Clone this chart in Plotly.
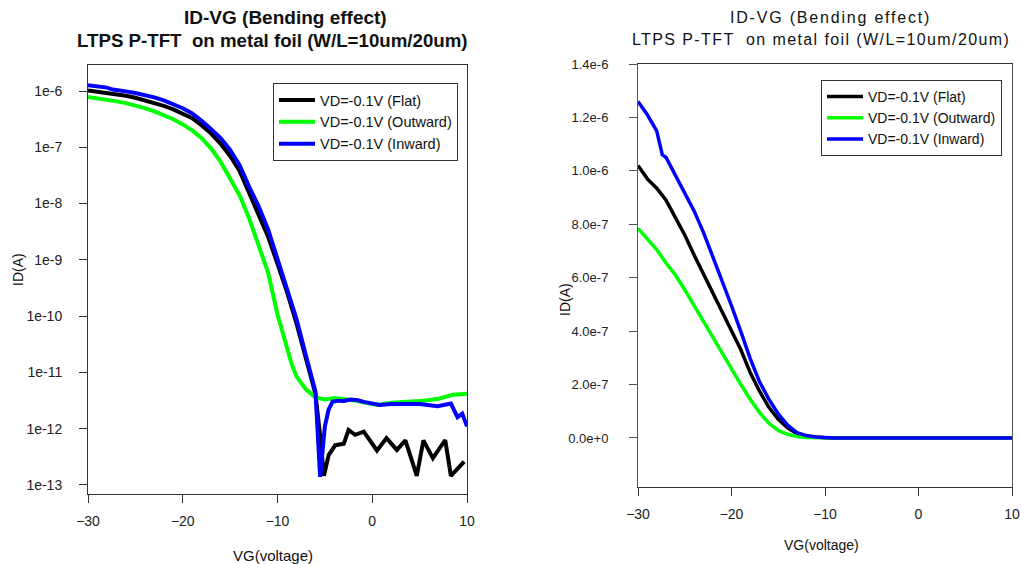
import plotly.graph_objects as go

# ---------------- data ----------------
vg_flat = [-30, -29, -28, -27, -26, -25, -24, -23, -22, -21, -20, -19, -18, -17, -16, -15, -14, -13,
           -12, -11, -10, -9, -8, -7, -6, -5.5, -5.1, -4.6, -3.9, -3.0, -2.5, -1.8, -0.9, 0.5, 1.5,
           2.6, 3.5, 4.7, 5.4, 6.4, 7.7, 8.3, 9.0, 9.7]
id_flat = [1.02e-6, 9.7e-7, 9.35e-7, 8.9e-7, 8.25e-7, 7.6e-7, 6.85e-7, 6.15e-7, 5.45e-7, 4.7e-7,
           4.0e-7, 3.3e-7, 2.45e-7, 1.75e-7, 1.15e-7, 7.0e-8, 3.8e-8, 1.6e-8, 6.5e-9, 2.6e-9,
           8.5e-10, 2.7e-10, 7.5e-11, 1.8e-11, 4.2e-12, 7.5e-13, 1.45e-13, 3.4e-13, 5.1e-13,
           5.4e-13, 9.5e-13, 7.8e-13, 8.9e-13, 4.1e-13, 6.8e-13, 4.2e-13, 6.2e-13, 1.45e-13,
           6.2e-13, 3.0e-13, 6.3e-13, 1.45e-13, 2.0e-13, 2.6e-13]

vg_out = [-30, -29, -28, -27, -26, -25, -24, -23, -22, -21, -20, -19, -18, -17, -16, -15, -14, -13,
          -12, -11, -10, -9, -8.5, -8, -7.5, -7, -6, -5, -4, -2, 0.5, 2, 5.4, 7, 8.5, 10]
id_out = [7.85e-7, 7.45e-7, 7.05e-7, 6.55e-7, 6.1e-7, 5.55e-7, 4.95e-7, 4.35e-7, 3.75e-7, 3.15e-7,
          2.55e-7, 2.0e-7, 1.45e-7, 9.5e-8, 5.5e-8, 2.8e-8, 1.4e-8, 5.5e-9, 1.8e-9, 6.0e-10,
          1.07e-10, 2.6e-11, 1.4e-11, 8.5e-12, 6.3e-12, 5.0e-12, 3.6e-12, 3.3e-12, 3.5e-12,
          3.2e-12, 2.65e-12, 2.9e-12, 3.15e-12, 3.4e-12, 4.0e-12, 4.2e-12]

vg_in = [-30, -29, -28, -27.4, -27, -26, -25, -24, -23, -22, -21, -20, -19, -18, -17, -16, -15, -14,
         -13, -12, -11, -10, -9, -8, -7, -6, -5.5, -5, -4.6, -4.2, -3.6, -3, -2.3, -1.5, -0.9, 0,
         0.8, 2, 3.6, 5, 6.9, 8.3, 9.0, 9.5, 10]
id_in = [1.26e-6, 1.21e-6, 1.15e-6, 1.06e-6, 1.05e-6, 9.85e-7, 9.2e-7, 8.5e-7, 7.7e-7, 6.8e-7,
         5.9e-7, 4.95e-7, 3.98e-7, 2.97e-7, 2.1e-7, 1.45e-7, 9.0e-8, 4.8e-8, 2.0e-8, 9.0e-9,
         3.5e-9, 1.0e-9, 3.2e-10, 9.0e-11, 2.0e-11, 4.6e-12, 1.4e-13, 1.1e-12, 2.2e-12, 3.0e-12,
         3.15e-12, 3.1e-12, 3.3e-12, 3.2e-12, 3.0e-12, 2.8e-12, 2.65e-12, 2.75e-12, 2.75e-12,
         2.75e-12, 2.5e-12, 2.8e-12, 1.6e-12, 1.85e-12, 1.1e-12]

series_names = ["VD=-0.1V (Flat)", "VD=-0.1V (Outward)", "VD=-0.1V (Inward)"]
series_colors = ["#000000", "#00FF00", "#0000FF"]

x_ticks = [-30, -20, -10, 0, 10]
log_tickvals = [1e-6, 1e-7, 1e-8, 1e-9, 1e-10, 1e-11, 1e-12, 1e-13]
log_ticktext = ["1e-6", "1e-7", "1e-8", "1e-9", "1e-10", "1e-11", "1e-12", "1e-13"]
lin_tickvals = [1.4e-6, 1.2e-6, 1.0e-6, 8.0e-7, 6.0e-7, 4.0e-7, 2.0e-7, 0.0]
lin_ticktext = ["1.4e-6", "1.2e-6", "1.0e-6", "8.0e-7", "6.0e-7", "4.0e-7", "2.0e-7", "0.0e+0"]

title_l1 = "ID-VG (Bending effect)"
title_l2 = "LTPS P-TFT  on metal foil (W/L=10um/20um)"

# ---------------- figure ----------------
W, H = 1021, 564
FONT = "Liberation Sans, Arial, sans-serif"

def px(x):
    return x / W

def py(y):
    return 1 - y / H

fig = go.Figure()
data = [(vg_flat, id_flat), (vg_out, id_out), (vg_in, id_in)]
for (vx, vy), name, col in zip(data, series_names, series_colors):
    fig.add_trace(go.Scatter(x=vx, y=vy, mode="lines", name=name,
                             line=dict(color=col, width=4),
                             xaxis="x", yaxis="y", legend="legend"))
for (vx, vy), name, col in zip(data, series_names, series_colors):
    fig.add_trace(go.Scatter(x=vx, y=vy, mode="lines", name=name,
                             line=dict(color=col, width=3.5),
                             xaxis="x2", yaxis="y2", legend="legend2"))

def axis_common(size, color="#333333"):
    return dict(showline=True, mirror=True, linecolor=color, linewidth=1,
                ticks="outside", ticklen=8, tickcolor=color, showgrid=False,
                zeroline=False, automargin=False,
                tickfont=dict(family=FONT, size=size, color="#222222"))

fig.update_layout(
    template="none",
    width=W, height=H, margin=dict(l=0, r=0, t=0, b=0, pad=0, autoexpand=False),
    paper_bgcolor="white", plot_bgcolor="white",
    font=dict(family=FONT, color="#111111"),
    xaxis=dict(domain=[px(88), px(467)], range=[-30, 10], tickvals=x_ticks,
               anchor="y", ticklabelstandoff=6, **axis_common(14)),
    yaxis=dict(domain=[py(494), py(65)], type="log", range=[-13.16, -5.538],
               tickvals=log_tickvals, ticktext=log_ticktext, anchor="x",
               ticklabelstandoff=14, **axis_common(14)),
    xaxis2=dict(domain=[px(638), px(1012)], range=[-30, 10], tickvals=x_ticks,
                anchor="y2", ticklabelstandoff=6, **axis_common(14)),
    yaxis2=dict(domain=[py(487), py(64)], range=[-1.835e-7, 1.4e-6],
                tickvals=lin_tickvals, ticktext=lin_ticktext, anchor="x2",
                ticklabelstandoff=18, **axis_common(13, "#555555")),
    legend=dict(x=px(273), y=py(83), xanchor="left", yanchor="top", itemwidth=36,
                bordercolor="#333333", borderwidth=1, bgcolor="white",
                font=dict(family=FONT, size=14.5, color="#111111")),
    legend2=dict(x=px(821), y=py(80), xanchor="left", yanchor="top", itemwidth=36,
                 bordercolor="#333333", borderwidth=1, bgcolor="white",
                 font=dict(family=FONT, size=14, color="#111111")),
    showlegend=True,
)

ann = []
# left titles (bold)
ann.append(dict(text="<b>" + title_l1 + "</b>", x=px(285), y=py(17), font=dict(size=19)))
ann.append(dict(text="<b>" + title_l2 + "</b>", x=px(272), y=py(41), font=dict(size=18.7)))
# right titles (regular, spaced)
ann.append(dict(text='<span style="letter-spacing:1.8px">' + title_l1 + "</span>",
                x=px(830), y=py(17), font=dict(size=16)))
ann.append(dict(text='<span style="letter-spacing:1.4px">' + title_l2 + "</span>",
                x=px(821), y=py(40), font=dict(size=16)))
# axis titles
ann.append(dict(text="VG(voltage)", x=px(273), y=py(555), font=dict(size=15)))
ann.append(dict(text="VG(voltage)", x=px(821), y=py(545), font=dict(size=14)))
ann.append(dict(text="ID(A)", x=px(18), y=py(270), textangle=-90, font=dict(size=14)))
ann.append(dict(text="ID(A)", x=px(565), y=py(300), textangle=-90, font=dict(size=14)))
for a in ann:
    a.update(xref="paper", yref="paper", showarrow=False, xanchor="center", yanchor="middle")
    a["font"].update(family=FONT, color="#111111")
fig.update_layout(annotations=ann)

fig.write_html("out.html", config={"displayModeBar": False},
               post_script="document.body.style.margin='0px';"
                           "document.body.style.overflow='hidden';")
